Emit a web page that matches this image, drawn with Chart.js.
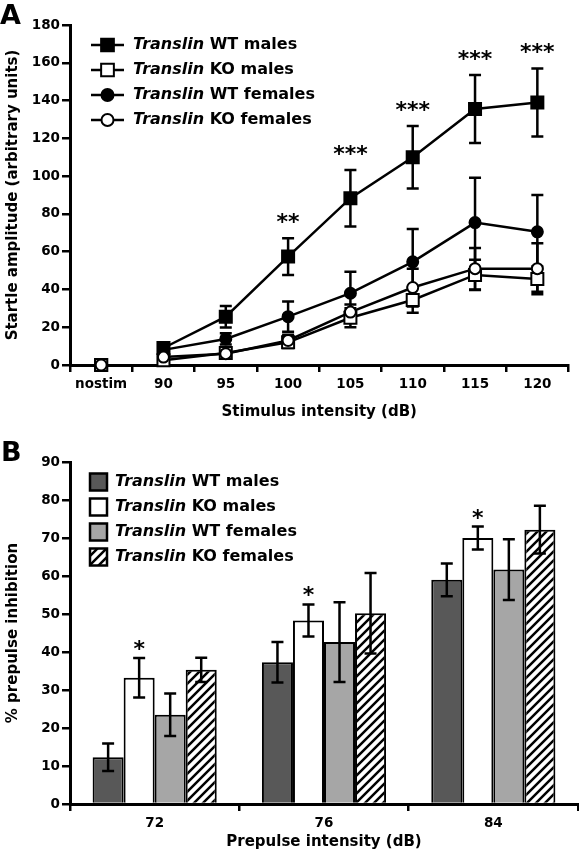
<!DOCTYPE html>
<html>
<head>
<meta charset="utf-8">
<script src="https://cdn.jsdelivr.net/npm/chart.js@4.4.0/dist/chart.umd.min.js"></script>
<style>
  body { margin: 0; background: #fff; }
  canvas { position: absolute; left: 0; }
  #chartA { top: 0; }
  #chartB { top: 430px; }
</style>
</head>
<body>
<canvas id="chartA" width="579" height="430"></canvas>
<canvas id="chartB" width="579" height="423"></canvas>
<script>
const FONT = "'DejaVu Sans'";
const seriesNames = ['Translin WT males', 'Translin KO males', 'Translin WT females', 'Translin KO females'];

// Panel A - startle amplitude
const stimLabels = ['nostim', '90', '95', '100', '105', '110', '115', '120'];
const wtMales = [0, 9, 25.6, 57.4, 88.3, 110, 135.5, 139];
const wtMalesErr = [0, 3, 5.7, 9.7, 15, 16.5, 18, 18];
const koMales = [0, 2.5, 6.3, 12, 25, 34.4, 47.7, 45.5];
const koMalesErr = [0, 2, 2, 3, 5, 6.7, 8, 6.7];
const wtFemales = [0, 8, 13.8, 25.6, 38, 54.6, 75.4, 70.5];
const wtFemalesErr = [0, 3, 3, 8, 11.4, 17.4, 23.7, 19.5];
const koFemales = [0, 4.2, 6, 13, 28, 41, 51, 51];
const koFemalesErr = [0, 2, 2, 3, 4, 10, 11, 13.5];
const startleStars = ['', '', '', '**', '***', '***', '***', '***'];

// Panel B - prepulse inhibition
const prepulseLabels = ['72', '76', '84'];
const ppiWtMales = [12.3, 37.3, 59];
const ppiWtMalesErr = [3.6, 5.3, 4.3];
const ppiKoMales = [33.2, 48.3, 70];
const ppiKoMalesErr = [5.2, 4.2, 3];
const ppiWtFemales = [23.5, 42.6, 61.7];
const ppiWtFemalesErr = [5.6, 10.5, 8];
const ppiKoFemales = [35.3, 50.2, 72.2];
const ppiKoFemalesErr = [3.2, 10.6, 6.3];
const ppiStars = ['*', '*', '*'];

Chart.defaults.font.family = FONT;
Chart.defaults.font.weight = 'bold';
Chart.defaults.color = '#000';

function hatchPattern() {
    const c = document.createElement('canvas');
    c.width = 9; c.height = 9;
    const g = c.getContext('2d');
    g.fillStyle = '#fff';
    g.fillRect(0, 0, 9, 9);
    g.strokeStyle = '#000';
    g.lineWidth = 2.5;
    g.beginPath();
    g.moveTo(-1, 10); g.lineTo(10, -1);
    g.moveTo(-4, 4); g.lineTo(4, -4);
    g.moveTo(5, 13); g.lineTo(13, 5);
    g.stroke();
    return g.createPattern(c, 'repeat');
}

function drawMarker(ctx, style, x, y, r, fill) {
    ctx.fillStyle = fill;
    ctx.strokeStyle = '#000';
    ctx.lineWidth = 2;
    ctx.beginPath();
    if (style === 'rect') {
        const s = r * Math.SQRT1_2;
        ctx.rect(x - s, y - s, 2 * s, 2 * s);
    } else {
        ctx.arc(x, y, r, 0, Math.PI * 2);
    }
    ctx.fill();
    ctx.stroke();
}

function drawErrorBars(chart) {
    const ctx = chart.ctx;
    const yScale = chart.scales.y;
    chart.data.datasets.forEach((ds, i) => {
        if (!ds.errors) return;
        chart.getDatasetMeta(i).data.forEach((el, j) => {
            const e = ds.errors[j];
            if (!e) return;
            const top = yScale.getPixelForValue(ds.data[j] + e);
            const bot = yScale.getPixelForValue(ds.data[j] - e);
            ctx.save();
            ctx.strokeStyle = '#000';
            ctx.lineWidth = 2.5;
            ctx.beginPath();
            ctx.moveTo(el.x, top); ctx.lineTo(el.x, bot);
            ctx.moveTo(el.x - 6, top); ctx.lineTo(el.x + 6, top);
            ctx.moveTo(el.x - 6, bot); ctx.lineTo(el.x + 6, bot);
            ctx.stroke();
            ctx.restore();
        });
    });
}

const errorBars = {
    id: 'errorBars',
    beforeDatasetsDraw(chart, args, o) { if (!o.above) drawErrorBars(chart); },
    afterDatasetsDraw(chart, args, o) { if (o.above) drawErrorBars(chart); }
};

// significance asterisks above the error bars
const stars = {
    id: 'stars',
    afterDatasetsDraw(chart, args, o) {
        const ctx = chart.ctx;
        const yScale = chart.scales.y;
        chart.data.datasets.forEach((ds, i) => {
            if (!ds.stars) return;
            const meta = chart.getDatasetMeta(i);
            ctx.save();
            ctx.font = `bold ${o.size}px ${FONT}`;
            ctx.fillStyle = '#000';
            ctx.textAlign = 'center';
            ctx.textBaseline = 'alphabetic';
            ds.stars.forEach((m, j) => {
                if (!m) return;
                const cy = yScale.getPixelForValue(ds.data[j] + ds.errors[j]) - o.gap;
                ctx.fillText(m, meta.data[j].x, cy + 0.545 * o.size);
            });
            ctx.restore();
        });
    }
};

const figLegend = {
    id: 'figLegend',
    afterDraw(chart, args, o) {
        const ctx = chart.ctx;
        chart.data.datasets.forEach((ds, i) => {
            const y = o.top + i * o.step;
            ctx.save();
            if (o.kind === 'line') {
                ctx.strokeStyle = '#000';
                ctx.lineWidth = 2.5;
                ctx.beginPath();
                ctx.moveTo(o.x, y); ctx.lineTo(o.x + 33, y);
                ctx.stroke();
                drawMarker(ctx, ds.pointStyle, o.x + 16.5, y, ds.pointRadius + 0.5, ds.pointBackgroundColor);
            } else {
                ctx.fillStyle = ds.backgroundColor;
                ctx.fillRect(o.x, y - 8.5, 17, 17);
                ctx.strokeStyle = '#000';
                ctx.lineWidth = 2.5;
                ctx.strokeRect(o.x, y - 8.5, 17, 17);
            }
            const words = ds.label.split(' ');
            ctx.fillStyle = '#000';
            ctx.textBaseline = 'middle';
            ctx.font = `italic bold 16px ${FONT}`;
            ctx.fillText(words[0], o.textX, y);
            const w = ctx.measureText(words[0]).width;
            ctx.font = `bold 16px ${FONT}`;
            ctx.fillText(' ' + words.slice(1).join(' '), o.textX + w, y);
            ctx.restore();
        });
    }
};

const panelLetter = {
    id: 'panelLetter',
    afterDraw(chart, args, o) {
        const ctx = chart.ctx;
        ctx.save();
        ctx.font = `bold 27px ${FONT}`;
        ctx.fillStyle = '#000';
        ctx.textBaseline = 'alphabetic';
        ctx.fillText(o.text, o.x, o.y);
        ctx.restore();
    }
};

function axisX(title, height, titlePad) {
    return {
        offset: true,
        grid: { display: true, offset: true, drawOnChartArea: false, drawTicks: true, tickLength: 7, color: '#000', lineWidth: 2.5 },
        border: { display: true, color: '#000', width: 3 },
        ticks: { font: { size: 13.5, weight: 'bold' }, padding: 4, maxRotation: 0, autoSkip: false },
        title: { display: true, text: title, font: { size: 15, weight: 'bold' }, padding: { top: 0, bottom: titlePad } },
        afterFit(s) { s.height = height; }
    };
}

function axisY(title, max, step) {
    return {
        min: 0, max: max,
        ticks: { stepSize: step, padding: 2, font: { size: 13.5, weight: 'bold' } },
        grid: { display: true, drawOnChartArea: false, drawTicks: true, tickLength: 8, color: '#000', lineWidth: 2.5 },
        border: { display: true, color: '#000', width: 3 },
        title: { display: true, text: title, font: { size: 15, weight: 'bold' }, padding: { top: 4, bottom: 0 } },
        afterFit(s) { s.width = 70; }
    };
}

// order: open markers are drawn above the filled ones
function lineSet(label, data, errors, style, fill, radius, order) {
    return {
        label: label, data: data, errors: errors, order: order,
        borderColor: '#000', borderWidth: 2.5, tension: 0,
        pointStyle: style, pointRadius: radius, pointHoverRadius: radius,
        pointBackgroundColor: fill, pointBorderColor: '#000', pointBorderWidth: 2,
        clip: false,
        segment: { borderColor: c => c.p0DataIndex === 0 ? 'rgba(0,0,0,0)' : '#000' }
    };
}

const wtMaleSet = lineSet(seriesNames[0], wtMales, wtMalesErr, 'rect', '#000', 8.5, 3);
wtMaleSet.stars = startleStars;

new Chart(document.getElementById('chartA'), {
    type: 'line',
    data: {
        labels: stimLabels,
        datasets: [
            wtMaleSet,
            lineSet(seriesNames[1], koMales, koMalesErr, 'rect', '#fff', 8.5, 1),
            lineSet(seriesNames[2], wtFemales, wtFemalesErr, 'circle', '#000', 5.5, 2),
            lineSet(seriesNames[3], koFemales, koFemalesErr, 'circle', '#fff', 5.5, 0)
        ]
    },
    options: {
        responsive: false,
        animation: false,
        devicePixelRatio: 1,
        layout: { padding: { top: 25, right: 1, left: 0, bottom: 0 } },
        scales: {
            x: axisX('Stimulus intensity (dB)', 65, 9),
            y: axisY('Startle amplitude (arbitrary units)', 180, 20)
        },
        plugins: {
            legend: { display: false },
            tooltip: { enabled: false },
            errorBars: { above: false },
            stars: { gap: 21, size: 22 },
            figLegend: { kind: 'line', x: 91, textX: 133, top: 45, step: 25 },
            panelLetter: { text: 'A', x: 0, y: 24 }
        }
    },
    plugins: [errorBars, stars, figLegend, panelLetter]
});

function barSet(label, data, errors, color) {
    return {
        label: label, data: data, errors: errors,
        backgroundColor: color, borderColor: '#000', borderWidth: 2,
        barPercentage: 1, categoryPercentage: 0.733
    };
}

const koMaleBars = barSet(seriesNames[1], ppiKoMales, ppiKoMalesErr, '#fff');
koMaleBars.stars = ppiStars;

new Chart(document.getElementById('chartB'), {
    type: 'bar',
    data: {
        labels: prepulseLabels,
        datasets: [
            barSet(seriesNames[0], ppiWtMales, ppiWtMalesErr, '#585858'),
            koMaleBars,
            barSet(seriesNames[2], ppiWtFemales, ppiWtFemalesErr, '#a6a6a6'),
            barSet(seriesNames[3], ppiKoFemales, ppiKoFemalesErr, hatchPattern())
        ]
    },
    options: {
        responsive: false,
        animation: false,
        devicePixelRatio: 1,
        layout: { padding: { top: 32, right: 1, left: 0, bottom: 0 } },
        scales: {
            x: axisX('Prepulse intensity (dB)', 49, 2),
            y: axisY('% prepulse inhibition', 90, 10)
        },
        plugins: {
            legend: { display: false },
            tooltip: { enabled: false },
            errorBars: { above: true },
            stars: { gap: 14, size: 22 },
            figLegend: { kind: 'box', x: 90, textX: 115, top: 52, step: 25 },
            panelLetter: { text: 'B', x: 1, y: 31 }
        }
    },
    plugins: [errorBars, stars, figLegend, panelLetter]
});
</script>
</body>
</html>
